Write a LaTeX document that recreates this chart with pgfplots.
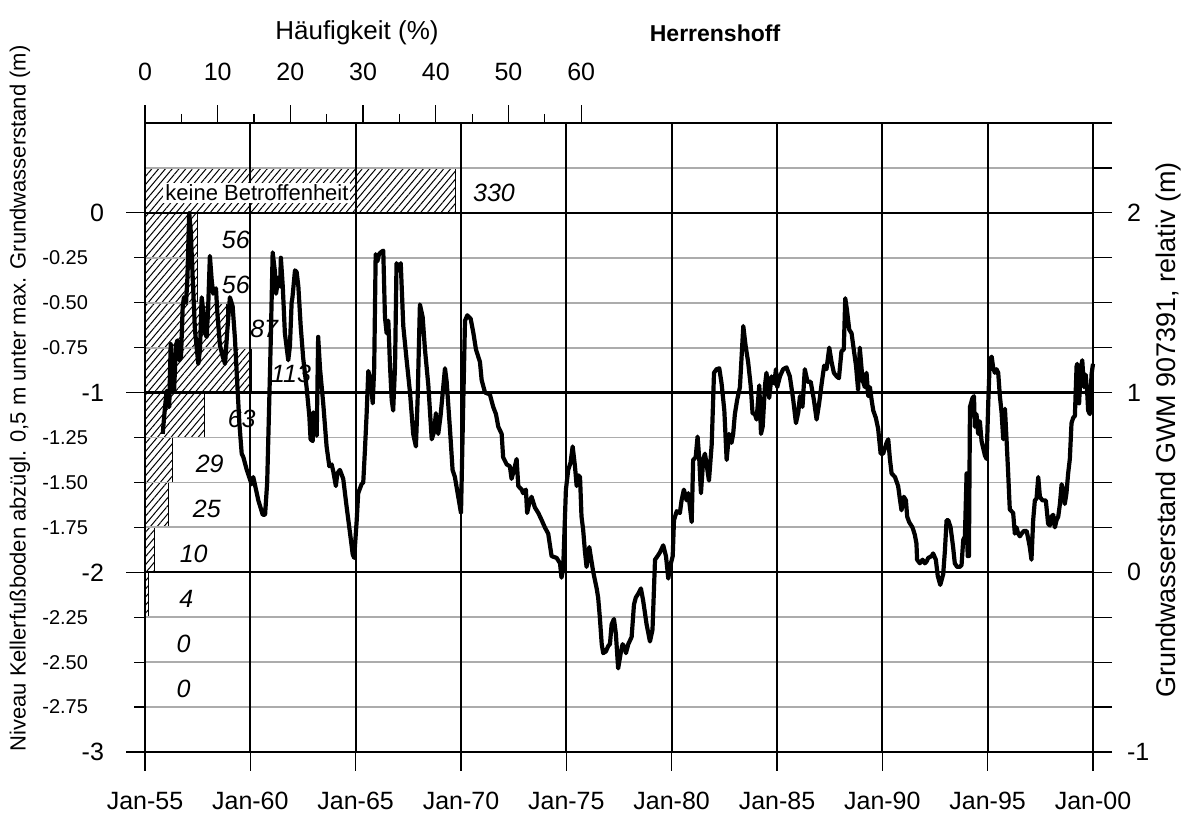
\documentclass[border=0pt]{standalone}
\usepackage{fontspec}
\setmainfont{Liberation Sans}
\usepackage{pgfplots}
\pgfplotsset{compat=1.18}
\usetikzlibrary{patterns.meta}

\pgfplotstableread{
t v
1955.84 -1.23
1955.95 -1.08
1956.03 -0.99
1956.15 -1.08
1956.22 -0.73
1956.31 -0.97
1956.38 -0.99
1956.47 -0.74
1956.53 -0.71
1956.63 -0.82
1956.71 -0.80
1956.79 -0.52
1956.85 -0.47
1956.95 -0.50
1957.01 -0.37
1957.10 0.00
1957.17 -0.10
1957.37 -0.65
1957.53 -0.84
1957.61 -0.76
1957.69 -0.47
1957.77 -0.55
1957.85 -0.67
1957.93 -0.69
1958.00 -0.52
1958.08 -0.24
1958.17 -0.38
1958.24 -0.45
1958.37 -0.42
1958.43 -0.55
1958.56 -0.74
1958.69 -0.80
1958.80 -0.84
1958.91 -0.65
1959.03 -0.47
1959.16 -0.52
1959.27 -0.70
1959.38 -0.95
1959.48 -1.17
1959.59 -1.34
1959.67 -1.36
1959.83 -1.43
1960.06 -1.51
1960.14 -1.47
1960.38 -1.60
1960.59 -1.68
1960.70 -1.68
1960.80 -1.50
1960.90 -1.04
1960.97 -0.71
1961.06 -0.22
1961.17 -0.33
1961.22 -0.45
1961.33 -0.36
1961.41 -0.41
1961.45 -0.25
1961.54 -0.41
1961.64 -0.67
1961.80 -0.82
1961.88 -0.74
1961.96 -0.50
1962.00 -0.47
1962.12 -0.32
1962.20 -0.33
1962.28 -0.41
1962.39 -0.63
1962.51 -0.81
1962.67 -0.97
1962.80 -1.13
1962.86 -1.26
1962.96 -1.27
1962.99 -1.11
1963.07 -1.15
1963.15 -1.24
1963.22 -0.69
1963.31 -0.87
1963.46 -1.06
1963.62 -1.30
1963.75 -1.41
1963.86 -1.40
1963.94 -1.44
1964.06 -1.52
1964.13 -1.45
1964.25 -1.43
1964.41 -1.48
1964.57 -1.635
1964.73 -1.78
1964.86 -1.90
1964.93 -1.92
1965.05 -1.71
1965.12 -1.56
1965.28 -1.51
1965.36 -1.50
1965.44 -1.32
1965.52 -1.12
1965.60 -0.88
1965.71 -0.93
1965.81 -1.06
1965.88 -0.86
1965.95 -0.23
1966.03 -0.27
1966.11 -0.23
1966.19 -0.22
1966.31 -0.21
1966.39 -0.58
1966.47 -0.67
1966.55 -0.60
1966.63 -0.85
1966.71 -1.04
1966.78 -1.10
1966.87 -0.85
1966.94 -0.28
1967.05 -0.32
1967.14 -0.28
1967.26 -0.63
1967.42 -0.82
1967.58 -1.00
1967.73 -1.23
1967.86 -1.30
1967.94 -1.04
1968.05 -0.51
1968.18 -0.58
1968.29 -0.76
1968.45 -0.96
1968.61 -1.26
1968.72 -1.22
1968.81 -1.115
1968.92 -1.23
1969.03 -1.13
1969.24 -0.865
1969.32 -0.94
1969.48 -1.21
1969.60 -1.43
1969.71 -1.47
1969.87 -1.58
1970.00 -1.67
1970.11 -1.04
1970.19 -0.60
1970.30 -0.57
1970.46 -0.59
1970.59 -0.67
1970.71 -0.76
1970.90 -0.83
1970.98 -0.93
1971.14 -1.00
1971.37 -1.01
1971.53 -1.08
1971.66 -1.12
1971.77 -1.19
1971.93 -1.23
1972.00 -1.36
1972.17 -1.40
1972.32 -1.41
1972.40 -1.48
1972.56 -1.41
1972.64 -1.37
1972.72 -1.52
1972.88 -1.54
1972.95 -1.56
1973.08 -1.54
1973.14 -1.67
1973.27 -1.60
1973.35 -1.58
1973.51 -1.64
1973.67 -1.67
1973.83 -1.71
1973.98 -1.75
1974.14 -1.785
1974.30 -1.91
1974.54 -1.92
1974.70 -1.95
1974.77 -2.03
1974.85 -1.98
1974.98 -1.54
1975.09 -1.43
1975.20 -1.39
1975.30 -1.30
1975.41 -1.41
1975.49 -1.52
1975.56 -1.46
1975.65 -1.47
1975.72 -1.69
1975.80 -1.765
1975.88 -1.88
1975.96 -1.97
1976.09 -1.86
1976.17 -1.92
1976.28 -2.00
1976.44 -2.09
1976.51 -2.14
1976.59 -2.25
1976.68 -2.40
1976.75 -2.45
1976.88 -2.44
1976.99 -2.41
1977.07 -2.40
1977.15 -2.29
1977.26 -2.26
1977.35 -2.34
1977.46 -2.535
1977.58 -2.45
1977.67 -2.40
1977.78 -2.42
1977.83 -2.45
1977.94 -2.40
1978.10 -2.36
1978.21 -2.18
1978.30 -2.14
1978.41 -2.12
1978.54 -2.09
1978.65 -2.16
1978.81 -2.29
1978.97 -2.385
1979.09 -2.32
1979.21 -1.93
1979.33 -1.91
1979.44 -1.89
1979.60 -1.85
1979.73 -1.91
1979.84 -2.035
1979.92 -1.97
1980.05 -1.91
1980.11 -1.71
1980.24 -1.66
1980.39 -1.67
1980.47 -1.60
1980.58 -1.54
1980.71 -1.60
1980.79 -1.56
1980.95 -1.72
1981.02 -1.375
1981.14 -1.36
1981.23 -1.245
1981.31 -1.37
1981.39 -1.56
1981.50 -1.37
1981.58 -1.34
1981.66 -1.40
1981.77 -1.49
1981.90 -1.29
1982.01 -0.89
1982.13 -0.87
1982.26 -0.865
1982.37 -0.95
1982.50 -1.10
1982.61 -1.375
1982.72 -1.23
1982.84 -1.28
1982.92 -1.23
1983.00 -1.12
1983.11 -1.04
1983.24 -0.97
1983.40 -0.63
1983.51 -0.74
1983.63 -0.83
1983.75 -0.96
1983.84 -1.115
1983.95 -1.12
1984.03 -1.15
1984.16 -0.96
1984.24 -1.23
1984.32 -1.19
1984.43 -0.96
1984.50 -0.89
1984.63 -1.03
1984.74 -0.91
1984.87 -0.95
1984.95 -0.87
1985.01 -0.97
1985.14 -0.91
1985.29 -0.87
1985.45 -0.86
1985.61 -0.91
1985.77 -1.04
1985.90 -1.17
1986.01 -1.11
1986.09 -1.02
1986.21 -1.08
1986.32 -0.87
1986.45 -0.94
1986.60 -0.94
1986.75 -1.04
1986.88 -1.15
1987.00 -1.06
1987.12 -0.95
1987.24 -0.85
1987.35 -0.87
1987.48 -0.75
1987.59 -0.83
1987.70 -0.89
1987.83 -0.91
1987.94 -0.92
1988.06 -0.77
1988.17 -0.76
1988.24 -0.475
1988.32 -0.54
1988.43 -0.65
1988.54 -0.67
1988.62 -0.74
1988.75 -0.85
1988.85 -0.985
1988.93 -0.75
1989.06 -0.93
1989.17 -0.97
1989.25 -0.89
1989.33 -1.02
1989.41 -0.97
1989.49 -1.04
1989.57 -1.10
1989.69 -1.14
1989.80 -1.20
1989.92 -1.34
1990.04 -1.34
1990.20 -1.28
1990.28 -1.26
1990.36 -1.37
1990.44 -1.45
1990.60 -1.47
1990.75 -1.52
1990.83 -1.59
1990.91 -1.655
1991.02 -1.58
1991.12 -1.60
1991.18 -1.69
1991.27 -1.72
1991.43 -1.75
1991.54 -1.79
1991.62 -1.84
1991.65 -1.93
1991.78 -1.95
1991.91 -1.93
1992.02 -1.95
1992.10 -1.94
1992.18 -1.92
1992.34 -1.91
1992.41 -1.895
1992.54 -1.93
1992.63 -2.02
1992.75 -2.07
1992.89 -2.01
1992.97 -1.88
1993.05 -1.71
1993.13 -1.71
1993.24 -1.75
1993.36 -1.86
1993.44 -1.95
1993.55 -1.97
1993.68 -1.97
1993.76 -1.96
1993.84 -1.82
1993.92 -1.80
1994.00 -1.45
1994.05 -1.91
1994.11 -1.91
1994.16 -1.08
1994.28 -1.03
1994.35 -1.02
1994.39 -1.19
1994.47 -1.12
1994.55 -1.23
1994.63 -1.16
1994.71 -1.27
1994.79 -1.31
1994.87 -1.35
1994.95 -1.37
1995.03 -1.05
1995.10 -0.82
1995.19 -0.80
1995.26 -0.86
1995.34 -0.89
1995.42 -0.87
1995.50 -0.89
1995.58 -1.02
1995.66 -1.11
1995.74 -1.26
1995.82 -1.09
1995.90 -1.27
1995.97 -1.44
1996.05 -1.65
1996.13 -1.66
1996.21 -1.67
1996.29 -1.785
1996.37 -1.75
1996.45 -1.785
1996.53 -1.80
1996.61 -1.785
1996.72 -1.77
1996.85 -1.77
1996.92 -1.81
1997.00 -1.86
1997.08 -1.93
1997.16 -1.71
1997.24 -1.60
1997.32 -1.59
1997.40 -1.47
1997.48 -1.58
1997.60 -1.60
1997.76 -1.60
1997.87 -1.73
1997.95 -1.74
1998.03 -1.69
1998.11 -1.68
1998.19 -1.75
1998.27 -1.71
1998.35 -1.69
1998.43 -1.62
1998.51 -1.51
1998.58 -1.54
1998.66 -1.62
1998.74 -1.56
1998.82 -1.45
1998.90 -1.37
1998.98 -1.17
1999.06 -1.14
1999.14 -1.13
1999.22 -0.855
1999.25 -0.84
1999.34 -1.06
1999.41 -0.88
1999.49 -0.82
1999.57 -0.97
1999.65 -0.90
1999.72 -0.99
1999.77 -1.10
1999.85 -1.12
1999.93 -0.90
2000.00 -0.84
}\gwdata

% Haeufigkeit (%) per 0.25 m class: counts 0,0,0,4,10,25,29,63,113,87,56,56,330 of 773
\pgfplotstableread{
p y
0 -3
0 -2.75
0 -2.5
0.52 -2.25
1.29 -2
3.23 -1.75
3.75 -1.5
8.15 -1.25
14.62 -1
11.25 -0.75
7.24 -0.5
7.24 -0.25
42.69 0
0 0.25
}\histdata

\newcommand{\fa}{\fontsize{12.5}{15}\selectfont}
\newcommand{\fb}{\fontsize{10}{12}\selectfont}

\begin{document}
\begin{tikzpicture}
\pgfplotsset{
  base/.style={scale only axis, width=474pt, height=314.5pt,
    at={(0,0)}, anchor=south west, clip=false,
    ymin=-3, ymax=0.5,
    /pgf/number format/assume math mode=true},
}
% ---------- histogram (top axis) ----------
\begin{axis}[base,
  xmin=0, xmax=130.4,
  axis x line*=top, axis y line=none,
  x axis line style={draw=none},
  xtick={0,10,...,60}, minor xtick={5,15,...,55},
  tick align=outside, major tick length=9pt, minor tick length=4.5pt,
  tick style={black, line width=0.6pt},
  xticklabel style={font=\fa, yshift=8.5pt},
]
\addplot[xbar interval, draw=black, line width=0.6pt, fill=white,
  postaction={pattern={Lines[angle=50, distance=2.6pt, line width=0.5pt]}}]
  table[x=p, y=y] {\histdata};
\end{axis}
% ---------- grid ----------
\begin{axis}[base,
  xmin=1955, xmax=2000,
  axis line style={draw=none},
  xtick=\empty, ytick={-3,-2.75,...,0.25}, yticklabels={},
  major tick length=0pt,
  ymajorgrids, major grid style={gray!65, line width=0.9pt},
  extra x ticks={1955,1960,...,2000}, extra x tick labels={},
  extra y ticks={-3,-2,-1,0}, extra y tick labels={},
  extra tick style={grid=major, major tick length=0pt,
    major grid style={black, line width=1.1pt}},
]
\end{axis}
% ---------- main axis with series ----------
\begin{axis}[base,
  xmin=1955, xmax=2000,
  axis line style={black, line width=1pt},
  xtick={1955,1960,...,2000},
  xticklabels={Jan-55,Jan-60,Jan-65,Jan-70,Jan-75,Jan-80,Jan-85,Jan-90,Jan-95,Jan-00},
  xtick pos=bottom, ytick pos=left,
  tick align=outside, major tick length=9.5pt,
  tick style={black, line width=0.6pt},
  xticklabel style={font=\fa, yshift=-7pt},
  ytick={-3,-2,-1,0}, yticklabels={-3,-2,-1,0},
  yticklabel style={font=\fa, xshift=-7.5pt},
  extra y ticks={-2.75,-2.5,-2.25,-1.75,-1.5,-1.25,-0.75,-0.5,-0.25},
  extra y tick labels={-2.75,-2.50,-2.25,-1.75,-1.50,-1.25,-0.75,-0.50,-0.25},
  extra y tick style={major tick length=5.5pt,
    yticklabel style={font=\fb, xshift=-12pt}},
]
\addplot[black, line width=2.1pt, line join=round] table[x=t, y=v] {\gwdata};
\node[font=\fontsize{11}{13}\selectfont, rotate=90] at (rel axis cs:-0.1319,0.562)
  {Niveau Kellerfußboden abzügl. 0,5 m unter max. Grundwasserstand (m)};
\node[font=\fontsize{11.5}{14}\selectfont\bfseries] at (rel axis cs:0.6013,1.1431) {Herrenshoff};
\node[font=\fontsize{13}{15}\selectfont] at (rel axis cs:0.2236,1.1431) {Häufigkeit (\%)};
\end{axis}
% ---------- right axis ----------
\begin{axis}[base,
  ymin=-1, ymax=2.5, xmin=0, xmax=1,
  axis x line=none, axis y line*=right,
  y axis line style={black, line width=1pt},
  ytick={-1,-0.75,...,2.5},
  yticklabels={-1,,,,0,,,,1,,,,2,,},
  tick align=outside, major tick length=9.5pt,
  tick style={black, line width=0.6pt},
  yticklabel style={font=\fa, xshift=4pt},
]
\node[font=\fontsize{13.5}{16}\selectfont, rotate=90] at (rel axis cs:1.080,0.512)
  {Grundwasserstand GWM 907391, relativ (m)};
\end{axis}
% ---------- data labels ----------
\begin{axis}[base,
  xmin=0, xmax=130.4, axis lines=none,
  nodes={font=\fa\itshape},
]
\node[fill=white, inner sep=1pt, font=\fontsize{11}{13}\selectfont] at (axis cs:15.4,0.11) {keine Betroffenheit};
\node at (axis cs:48.0,0.11) {330};
\node at (axis cs:12.5,-0.153) {56};
\node at (axis cs:12.5,-0.40) {56};
\node at (axis cs:16.4,-0.646) {87};
\node at (axis cs:20.1,-0.896) {113};
\node at (axis cs:13.3,-1.147) {63};
\node at (axis cs:8.9,-1.397) {29};
\node at (axis cs:8.5,-1.647) {25};
\node at (axis cs:6.7,-1.898) {10};
\node at (axis cs:5.7,-2.147) {4};
\node at (axis cs:5.3,-2.40) {0};
\node at (axis cs:5.3,-2.65) {0};
\end{axis}
\pgfresetboundingbox
\path[use as bounding box] (-72.5pt,-33.5pt) rectangle (522.5pt,376pt);
\end{tikzpicture}
\end{document}
